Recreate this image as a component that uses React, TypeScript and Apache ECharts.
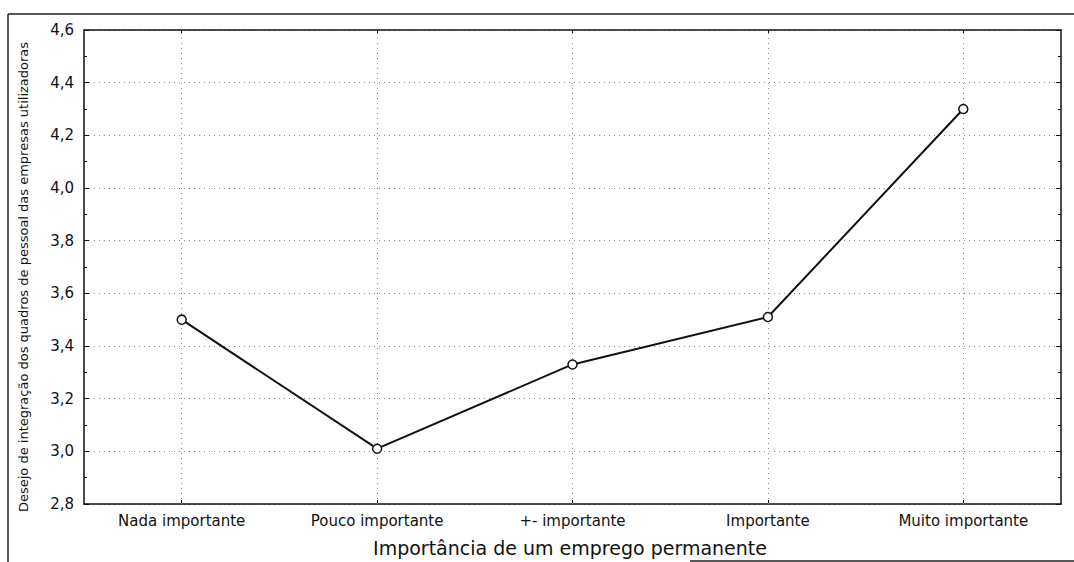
import React, { useEffect, useRef } from "react";
import * as echarts from "echarts";

const categories = ["Nada importante", "Pouco importante", "+- importante", "Importante", "Muito importante"];
const values = [3.5, 3.01, 3.33, 3.51, 4.3];
const yMin = 2.8;
const yMax = 4.6;
const yStep = 0.2;
const xTitle = "Importância de um emprego permanente";
const yTitle = "Desejo de integração dos quadros de pessoal das empresas utilizadoras";

const FONT = "DejaVu Sans";
const INK = "#111";

export default function App() {
  const ref = useRef<HTMLDivElement>(null);
  useEffect(() => {
    if (!ref.current) return;
    const chart = echarts.init(ref.current, null, { renderer: "svg" });
    const fmt = (v: number) => v.toFixed(1).replace(".", ",");
    const yCommon = {
      type: "value",
      min: yMin,
      max: yMax,
      interval: yStep,
      axisLine: { show: true, lineStyle: { color: INK, width: 1.5 } },
      axisTick: { show: true, inside: true, length: 5, lineStyle: { color: INK } },
      minorTick: { show: true, splitNumber: 2, length: 3, lineStyle: { color: INK } },
    };
    chart.setOption({
      animation: false,
      backgroundColor: "#fff",
      grid: { left: 84, right: 13, top: 30, bottom: 58, containLabel: false },
      xAxis: [
        {
          type: "category",
          data: categories,
          boundaryGap: true,
          axisLine: { show: true, lineStyle: { color: INK, width: 1.5 } },
          axisTick: { show: true, inside: true, alignWithLabel: true, length: 4, lineStyle: { color: INK } },
          axisLabel: { color: INK, fontFamily: FONT, fontSize: 15, margin: 9 },
          splitLine: { show: false },
        },
        {
          type: "category",
          data: categories,
          position: "top",
          boundaryGap: true,
          axisLine: { show: true, lineStyle: { color: INK, width: 1.5 } },
          axisTick: { show: true, inside: true, alignWithLabel: true, length: 4, lineStyle: { color: INK } },
          axisLabel: { show: false },
          splitLine: { show: false },
        },
      ],
      yAxis: [
        {
          ...yCommon,
          position: "left",
          axisLabel: { color: INK, fontFamily: FONT, fontSize: 15, margin: 10, formatter: fmt },
          splitLine: { show: true, lineStyle: { color: "#8a8a8a", type: [1, 4], width: 1 } },
        },
        {
          ...yCommon,
          position: "right",
          axisLabel: { show: false },
          splitLine: { show: false },
        },
      ],
      series: [
        {
          type: "line",
          data: values,
          xAxisIndex: 0,
          yAxisIndex: 0,
          symbol: "circle",
          symbolSize: 9,
          lineStyle: { color: INK, width: 2 },
          itemStyle: { color: "#fff", borderColor: INK, borderWidth: 1.5 },
          z: 5,
          markLine: {
            silent: true,
            symbol: "none",
            label: { show: false },
            lineStyle: { color: "#8a8a8a", type: [1, 4], width: 1 },
            data: categories.map((c) => ({ xAxis: c })),
            z: 1,
          },
        },
      ],
      graphic: [
        {
          type: "text",
          x: 570,
          y: 548,
          style: {
            text: xTitle,
            fontFamily: FONT,
            fontSize: 19,
            fill: INK,
            textAlign: "center",
            textVerticalAlign: "middle",
          },
        },
        {
          type: "text",
          x: 23,
          y: 277,
          rotation: Math.PI / 2,
          style: {
            text: yTitle,
            fontFamily: FONT,
            fontSize: 13,
            fill: INK,
            textAlign: "center",
            textVerticalAlign: "middle",
          },
        },
        { type: "line", shape: { x1: 8, y1: 14, x2: 1074, y2: 14 }, style: { stroke: "#222", lineWidth: 1.5 } },
        { type: "line", shape: { x1: 8, y1: 14, x2: 8, y2: 562 }, style: { stroke: "#222", lineWidth: 1.5 } },
        { type: "line", shape: { x1: 690, y1: 561, x2: 1074, y2: 561 }, style: { stroke: "#222", lineWidth: 1.5 } },
      ],
    });
    return () => chart.dispose();
  }, []);
  return (
    <div
      ref={ref}
      style={{ position: "fixed", left: 0, top: 0, width: 1074, height: 562, background: "#fff" }}
    />
  );
}
